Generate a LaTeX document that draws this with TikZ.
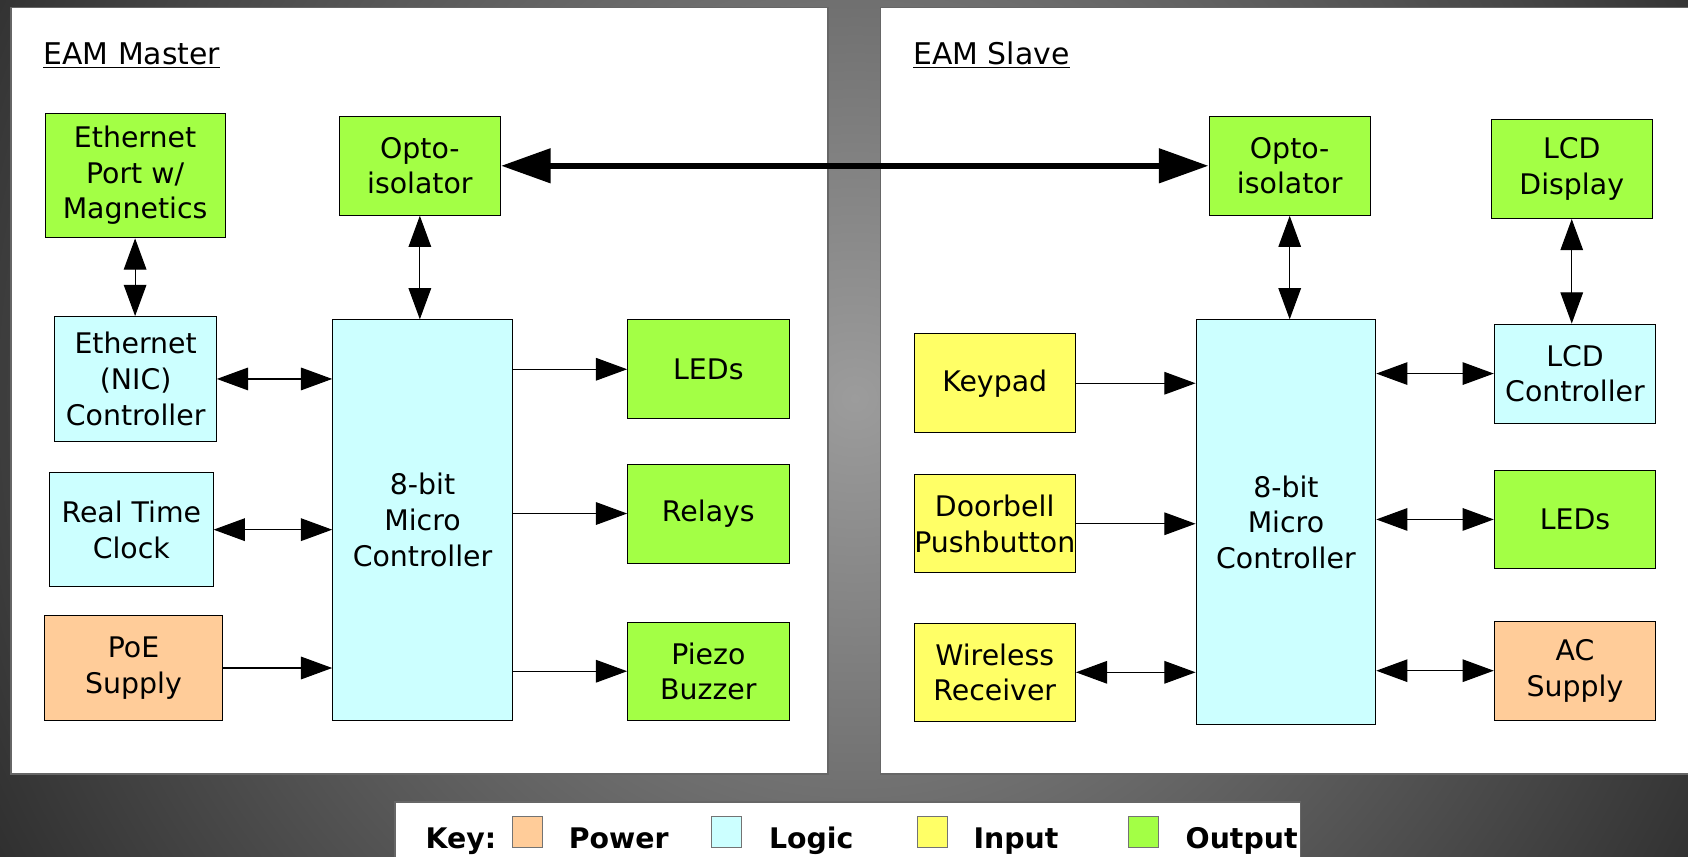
\documentclass[tikz,border=0pt]{standalone}
\usepackage{fontspec}
\setmainfont{DejaVu Sans}
\usetikzlibrary{arrows.meta}

\definecolor{outgreen}{HTML}{A3FF45}
\definecolor{logiccyan}{HTML}{CCFFFF}
\definecolor{inyellow}{HTML}{FFFF66}
\definecolor{pwrorange}{HTML}{FFCC99}
\definecolor{bgdark}{HTML}{2A2A2A}
\definecolor{bglight}{HTML}{9C9C9C}

\begin{document}
\begin{tikzpicture}[x=0.02cm,y=-0.02cm,
  block/.style={draw=black,line width=0.5pt,inner sep=0pt,align=center,
    font=\fontsize{15}{18.8}\selectfont,minimum width=3cm,minimum height=1.84cm},
  link/.style={line width=0.6pt,{Triangle[length=0.58cm,width=0.42cm]}-{Triangle[length=0.58cm,width=0.42cm]}},
  feed/.style={line width=0.6pt,-{Triangle[length=0.58cm,width=0.42cm]}},
  panel/.style={fill=white,draw=black!60,line width=0.8pt},
  title/.style={anchor=base west,inner sep=0pt,font=\fontsize{15.8}{19}\selectfont},
  keytext/.style={anchor=base west,inner sep=0pt,font=\fontsize{15}{18}\selectfont\bfseries},
  swatch/.style={draw=black!55,line width=0.5pt,minimum width=0.56cm,minimum height=0.57cm,inner sep=0pt}]
  \useasboundingbox (0,0) rectangle (1568,796);
  \path[clip] (0,0) rectangle (1568,796);
  \shade[inner color=bglight,outer color=bgdark] (794,370) circle [radius=950];

  % the two boards
  \draw[panel] (10,7) rectangle (769,719);
  \draw[panel] (818,7) rectangle (1600,719);
  \node[title] (mastertitle) at (40,59.5) {\underline{EAM Master}};
  \node[title] (slavetitle) at (848,59.5) {\underline{EAM Slave}};

  % master
  \node[block,fill=outgreen,minimum width=3.34cm,minimum height=2.32cm] (ethport) at (125.5,163) {Ethernet\\Port w/\\Magnetics};
  \node[block,fill=outgreen] (optoM) at (390,154) {Opto-\\isolator};
  \node[block,fill=logiccyan,minimum height=2.32cm] (nic) at (126,352) {Ethernet\\(NIC)\\Controller};
  \node[block,fill=logiccyan,minimum width=3.34cm,minimum height=7.44cm] (mcuM) at (392.5,483) {8-bit\\Micro\\Controller};
  \node[block,fill=outgreen] (ledM) at (658,343) {LEDs};
  \node[block,fill=logiccyan,minimum width=3.04cm,minimum height=2.12cm] (rtc) at (122,492) {Real Time\\Clock};
  \node[block,fill=outgreen] (relays) at (658,477) {Relays};
  \node[block,fill=pwrorange,minimum width=3.32cm,minimum height=1.94cm] (poe) at (124,620.5) {PoE\\Supply};
  \node[block,fill=outgreen,minimum height=1.82cm] (piezo) at (658,623.5) {Piezo\\Buzzer};

  % slave
  \node[block,fill=outgreen] (optoS) at (1198,154) {Opto-\\isolator};
  \node[block,fill=outgreen] (lcd) at (1460,157) {LCD\\Display};
  \node[block,fill=inyellow] (keypad) at (924,356) {Keypad};
  \node[block,fill=logiccyan,minimum width=3.34cm,minimum height=7.52cm] (mcuS) at (1194.5,485) {8-bit\\Micro\\Controller};
  \node[block,fill=logiccyan] (lcdctl) at (1463,347) {LCD\\Controller};
  \node[block,fill=inyellow,minimum height=1.82cm] (doorbell) at (924,486.5) {Doorbell\\Pushbutton};
  \node[block,fill=outgreen,minimum height=1.82cm] (ledS) at (1463,482.5) {LEDs};
  \node[block,fill=inyellow,minimum height=1.82cm] (wireless) at (924,624.5) {Wireless\\Receiver};
  \node[block,fill=pwrorange] (ac) at (1463,623) {AC\\Supply};

  % links
  \draw[line width=0.12cm,{Triangle[length=0.92cm,width=0.62cm]}-{Triangle[length=0.92cm,width=0.62cm]}] (optoM.east) -- (optoS.west);
  \draw[link] (ethport.south) -- (ethport.south |- nic.north);
  \draw[link] (optoM.south) -- (optoM.south |- mcuM.north);
  \draw[link] (nic.east) -- (nic.east -| mcuM.west);
  \draw[link] (rtc.east) -- (rtc.east -| mcuM.west);
  \draw[feed] (poe.east) -- (poe.east -| mcuM.west);
  \draw[feed] (mcuM.east |- ledM.west) -- (ledM.west);
  \draw[feed] (mcuM.east |- relays.west) -- (relays.west);
  \draw[feed] (mcuM.east |- piezo.west) -- (piezo.west);

  \draw[link] (optoS.south) -- (optoS.south |- mcuS.north);
  \draw[link] (lcd.south) -- (lcd.south |- lcdctl.north);
  \draw[feed] (keypad.east) -- (keypad.east -| mcuS.west);
  \draw[feed] (doorbell.east) -- (doorbell.east -| mcuS.west);
  \draw[link] (wireless.east) -- (wireless.east -| mcuS.west);
  \draw[link] (mcuS.east |- lcdctl.west) -- (lcdctl.west);
  \draw[link] (mcuS.east |- ledS.west) -- (ledS.west);
  \draw[link] (mcuS.east |- ac.west) -- (ac.west);

  % key
  \draw[fill=white,draw=black!60,line width=0.8pt] (367,745) rectangle (1208,820);
  \node[keytext] (key) at (395,788) {Key:};
  \node[swatch,fill=pwrorange] (keypwr) at (490,773) {};
  \node[keytext] (keypwrtext) at (528,788) {Power};
  \node[swatch,fill=logiccyan] (keylogic) at (675,773) {};
  \node[keytext] (keylogictext) at (714,788) {Logic};
  \node[swatch,fill=inyellow] (keyin) at (866,773) {};
  \node[keytext] (keyintext) at (904,788) {Input};
  \node[swatch,fill=outgreen] (keyout) at (1062,773) {};
  \node[keytext] (keyouttext) at (1101,788) {Output};
\end{tikzpicture}
\end{document}
